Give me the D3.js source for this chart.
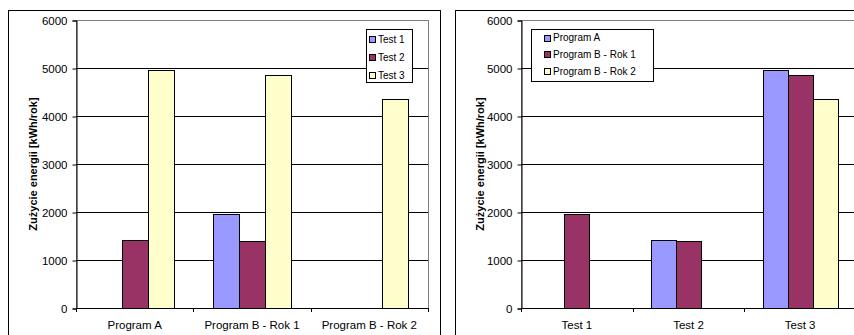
<!DOCTYPE html>
<html>
<head>
<meta charset="utf-8">
<script src="https://cdn.jsdelivr.net/npm/d3@7"></script>
<style>
  body { margin: 0; background: #fff; }
  svg { display: block; font-family: "Liberation Sans", Arial, sans-serif; }
</style>
</head>
<body>
<svg id="chart" width="854" height="335"></svg>
<script>
// values (kWh/rok), null = no bar
const programs = ["Program A", "Program B - Rok 1", "Program B - Rok 2"];
const tests = ["Test 1", "Test 2", "Test 3"];
const test1 = [null, 1950, null];
const test2 = [1420, 1400, null];
const test3 = [4950, 4850, 4360];
const yTicks = [0, 1000, 2000, 3000, 4000, 5000, 6000];
const yLabel = "Zużycie energii [kWh/rok]";
const colors = ["#9999ff", "#993366", "#ffffcc"];
const FONT = "'Liberation Sans', Arial, sans-serif";

const byTest = [test1, test2, test3];
// same numbers, turned round so the series are the programs
const byProgram = programs.map((p, i) => byTest.map(t => t[i]));

const svg = d3.select("#chart");

function drawChart(o) {
  // outer chart frame
  svg.append("rect")
    .attr("x", o.frame[0] + 0.5).attr("y", o.frame[1] + 0.5)
    .attr("width", o.frame[2]).attr("height", o.frame[3])
    .attr("fill", "#fff").attr("stroke", "#000").attr("stroke-width", 1);

  const x0 = d3.scaleBand().domain(o.categories).range([o.left, o.right]);
  // Excel style gap width 150%
  const x1 = d3.scaleBand().domain(o.series).range([0, x0.bandwidth()])
    .paddingInner(0).paddingOuter(0.75);
  const y = d3.scaleLinear().domain([0, 6000]).range([o.bottom, o.top]);

  const g = svg.append("g");

  // plot area border (grey)
  g.append("rect")
    .attr("x", o.left + 0.5).attr("y", o.top + 0.5)
    .attr("width", o.right - o.left).attr("height", o.bottom - o.top)
    .attr("fill", "#fff").attr("stroke", "#808080");

  // gridlines
  g.selectAll(".grid")
    .data(yTicks.filter(t => t > 0 && t < 6000))
    .enter().append("line")
    .attr("x1", o.left).attr("x2", o.right)
    .attr("y1", d => Math.round(y(d)) + 0.5).attr("y2", d => Math.round(y(d)) + 0.5)
    .attr("stroke", "#000");

  // bars
  o.series.forEach((s, si) => {
    o.values[si].forEach((v, ci) => {
      if (v == null) return;
      g.append("rect")
        .attr("x", Math.round(x0(o.categories[ci]) + x1(s)) + 0.5)
        .attr("y", Math.round(y(v)) + 0.5)
        .attr("width", Math.round(x1.bandwidth()))
        .attr("height", Math.round(y(0)) - Math.round(y(v)))
        .attr("fill", colors[si])
        .attr("stroke", "#000");
    });
  });

  // y axis
  const yAxis = d3.axisLeft(y).tickValues(yTicks).tickFormat(d3.format("d"))
    .tickSize(4).tickPadding(5);
  g.append("g")
    .attr("transform", `translate(${o.left + 0.5},0.5)`)
    .call(yAxis)
    .attr("font-family", FONT)
    .call(a => a.select(".domain").attr("stroke", "#000"))
    .call(a => a.selectAll(".tick text").attr("font-size", 11.5).attr("fill", "#000"));

  // x axis: line, ticks on category boundaries, labels centred
  const xa = g.append("g");
  xa.append("line")
    .attr("x1", o.left).attr("x2", o.right)
    .attr("y1", o.bottom + 0.5).attr("y2", o.bottom + 0.5)
    .attr("stroke", "#000");
  const bounds = o.categories.map(c => x0(c)).concat([o.right]);
  xa.selectAll(".xt").data(bounds).enter().append("line")
    .attr("x1", d => Math.round(d) + 0.5).attr("x2", d => Math.round(d) + 0.5)
    .attr("y1", o.bottom).attr("y2", o.bottom + 4)
    .attr("stroke", "#000");
  xa.selectAll(".xl").data(o.categories).enter().append("text")
    .attr("x", d => x0(d) + x0.bandwidth() / 2)
    .attr("y", o.bottom + 21)
    .attr("text-anchor", "middle")
    .attr("font-family", FONT)
    .attr("font-size", 11.5)
    .text(d => d);

  // y axis title
  svg.append("text")
    .attr("transform", `translate(${o.labelX},${(o.top + o.bottom) / 2}) rotate(-90)`)
    .attr("text-anchor", "middle")
    .attr("font-family", FONT)
    .attr("font-size", 11)
    .attr("font-weight", "bold")
    .text(yLabel);

  // legend
  const L = o.legend;
  const lg = svg.append("g");
  lg.append("rect")
    .attr("x", L.x + 0.5).attr("y", L.y + 0.5)
    .attr("width", L.w).attr("height", L.h)
    .attr("fill", "#fff").attr("stroke", "#000");
  o.series.forEach((s, i) => {
    const cy = L.y + L.first + i * L.step;
    lg.append("rect")
      .attr("x", L.x + L.sw + 0.5).attr("y", Math.round(cy - 3) + 0.5)
      .attr("width", 6).attr("height", 6)
      .attr("fill", colors[i]).attr("stroke", "#000");
    lg.append("text")
      .attr("x", L.x + L.sw + 9)
      .attr("y", cy + 3.5)
      .attr("font-family", FONT)
      .attr("font-size", 10)
      .text(s);
  });
}

drawChart({
  frame: [8, 10, 432, 340],
  left: 76, right: 428, top: 20, bottom: 308,
  labelX: 37,
  categories: programs,
  series: tests,
  values: byTest,
  legend: { x: 366, y: 29, w: 46, h: 53, sw: 3, first: 10, step: 18 }
});

drawChart({
  frame: [455, 10, 420, 340],
  left: 521, right: 856, top: 20, bottom: 308,
  labelX: 484,
  categories: tests,
  series: programs,
  values: byProgram,
  legend: { x: 531, y: 29, w: 122, h: 52, sw: 13, first: 8.5, step: 16.8 }
});
</script>
</body>
</html>
